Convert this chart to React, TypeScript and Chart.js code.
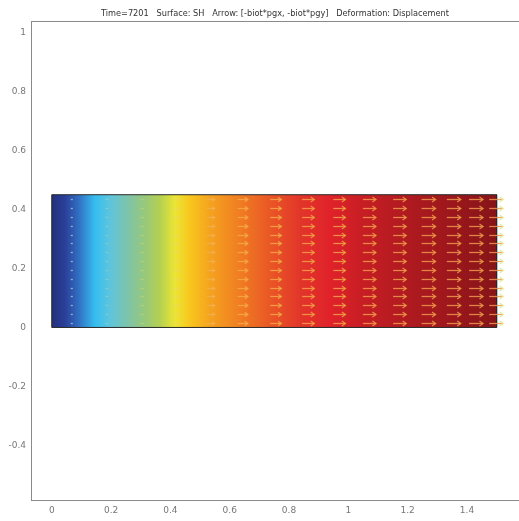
import React, { useEffect, useRef } from "react";
import { Chart, registerables } from "chart.js";

Chart.register(...registerables);

const titleText =
  "Time=7201   Surface: SH   Arrow: [-biot*pgx, -biot*pgy]   Deformation: Displacement";

const xTickValues = [0, 0.2, 0.4, 0.6, 0.8, 1, 1.2, 1.4];
const yTickValues = [-0.4, -0.2, 0, 0.2, 0.4, 0.6, 0.8, 1];

// domain outline (x, y)
const domainX = [0, 0, 1.5, 1.5, 0];
const domainY = [0, 0.45, 0.45, 0, 0];

// surface colour along x (SH)
const colorStopX = [0, 0.044, 0.088, 0.145, 0.196, 0.257, 0.315, 0.365, 0.416, 0.467, 0.534, 0.636, 0.737, 0.839, 0.94, 1.04, 1.177, 1.346, 1.5];
const colorStopC = [
  "#22307f", "#2a3f98", "#2f6cc0", "#35bdef", "#5ec4dc", "#7fc4a8", "#98c878", "#b5d050",
  "#ede533", "#f8c51e", "#f5a21f", "#f07c22", "#ea5626", "#e2352a", "#e0222a", "#c81e24",
  "#b21b20", "#9c171c", "#861518",
];

// arrow columns: tail x and arrow length (x units)
const arrowTailX = [0.064, 0.181, 0.298, 0.408, 0.522, 0.627, 0.737, 0.844, 0.949, 1.049, 1.151, 1.247, 1.332, 1.407, 1.475];
const arrowLen = [0.007, 0.01, 0.014, 0.017, 0.027, 0.034, 0.037, 0.041, 0.041, 0.044, 0.044, 0.047, 0.047, 0.047, 0.047];
const arrowRowsY = [0.015, 0.045, 0.075, 0.105, 0.135, 0.165, 0.195, 0.225, 0.255, 0.285, 0.315, 0.345, 0.375, 0.405, 0.435];
const arrowColor = [
  "rgba(190,210,235,0.7)", "rgba(150,210,200,0.6)", "rgba(190,210,120,0.6)", "rgba(235,215,90,0.7)",
  "rgba(243,176,74,0.85)", "rgba(243,168,72,0.85)", "rgba(243,168,72,0.85)", "rgba(242,160,70,0.85)",
  "rgba(242,160,70,0.85)", "rgba(240,154,72,0.85)", "rgba(238,154,74,0.85)", "rgba(238,154,74,0.85)",
  "rgba(236,152,76,0.85)", "rgba(236,152,76,0.85)", "rgba(236,152,76,0.85)",
];

const tickFont = { family: "DejaVu Sans", size: 9 };

const arrowPlugin = {
  id: "arrows",
  afterDatasetsDraw(chart: any) {
    const ctx = chart.ctx;
    const xs = chart.scales.x;
    const ys = chart.scales.y;
    ctx.save();
    ctx.lineWidth = 1.3;
    ctx.lineCap = "butt";
    arrowTailX.forEach((tx, i) => {
      const x0 = xs.getPixelForValue(tx);
      const x1 = xs.getPixelForValue(tx + arrowLen[i]);
      const len = x1 - x0;
      arrowRowsY.forEach((ry) => {
        const y = Math.round(ys.getPixelForValue(ry)) + 0.5;
        ctx.strokeStyle = arrowColor[i];
        ctx.beginPath();
        ctx.moveTo(x0, y);
        ctx.lineTo(x1, y);
        ctx.stroke();
        if (len > 5) {
          const h = Math.min(3.5, len * 0.3);
          if (i === arrowTailX.length - 1) ctx.strokeStyle = "rgba(226,234,156,0.9)";
          ctx.beginPath();
          ctx.moveTo(x1 - h, y - h * 0.7);
          ctx.lineTo(x1, y);
          ctx.lineTo(x1 - h, y + h * 0.7);
          ctx.stroke();
        }
      });
    });
    ctx.restore();
  },
};

export default function App() {
  const ref = useRef<HTMLCanvasElement | null>(null);
  useEffect(() => {
    if (!ref.current) return;
    const chart = new Chart(ref.current, {
      type: "line",
      data: {
        datasets: [
          {
            data: domainX.map((x, i) => ({ x, y: domainY[i] })),
            borderColor: "#2a2a2a",
            borderWidth: 1,
            pointRadius: 0,
            fill: "shape",
            tension: 0,
            backgroundColor: (c: any) => {
              const ch = c.chart;
              if (!ch.chartArea || !ch.scales.x) return "#e0222a";
              const xs = ch.scales.x;
              const p0 = xs.getPixelForValue(0);
              const p1 = xs.getPixelForValue(1.5);
              const g = ch.ctx.createLinearGradient(p0, 0, p1, 0);
              colorStopX.forEach((v, i) => g.addColorStop(v / 1.5, colorStopC[i]));
              return g;
            },
          },
        ],
      },
      options: {
        animation: false,
        responsive: false,
        devicePixelRatio: 1,
        layout: { padding: 0 },
        plugins: {
          legend: { display: false },
          tooltip: { enabled: false },
          title: {
            display: true,
            text: titleText,
            color: "#333",
            font: { family: "DejaVu Sans", size: 8.2, weight: "normal", lineHeight: 1.2 },
            padding: { top: 8.5, bottom: 2.66 },
          },
        },
        scales: {
          x: {
            type: "linear",
            position: "bottom",
            min: -0.07,
            max: 1.68,
            grid: { display: false, drawTicks: false },
            border: { display: true, color: "#8a8a8a", width: 1 },
            ticks: {
              padding: 5,
              color: "#777",
              font: tickFont,
              maxRotation: 0,
              callback: (v: any) => String(Math.round(Number(v) * 10) / 10),
            },
            afterBuildTicks: (s: any) => {
              s.ticks = xTickValues.map((v) => ({ value: v }));
            },
            afterFit: (s: any) => {
              s.height = 21;
            },
          },
          xTop: {
            type: "linear",
            position: "top",
            min: -0.07,
            max: 1.68,
            grid: { display: false, drawTicks: false },
            border: { display: true, color: "#8a8a8a", width: 1 },
            ticks: { display: false },
            afterFit: (s: any) => {
              s.height = 0;
            },
          },
          y: {
            type: "linear",
            min: -0.585,
            max: 1.039,
            grid: { display: false, drawTicks: false },
            border: { display: true, color: "#8a8a8a", width: 1 },
            ticks: {
              padding: 5,
              color: "#777",
              font: tickFont,
              callback: (v: any) => String(Math.round(Number(v) * 10) / 10),
            },
            afterBuildTicks: (s: any) => {
              s.ticks = yTickValues.map((v) => ({ value: v }));
            },
            afterFit: (s: any) => {
              s.width = 31;
            },
          },
        },
      } as any,
      plugins: [arrowPlugin],
    });
    return () => chart.destroy();
  }, []);

  return (
    <div
      style={{
        position: "fixed",
        left: 0,
        top: 0,
        width: 519,
        height: 521,
        overflow: "hidden",
        background: "#fff",
      }}
    >
      <canvas ref={ref} width={550} height={521} style={{ display: "block" }} />
    </div>
  );
}
